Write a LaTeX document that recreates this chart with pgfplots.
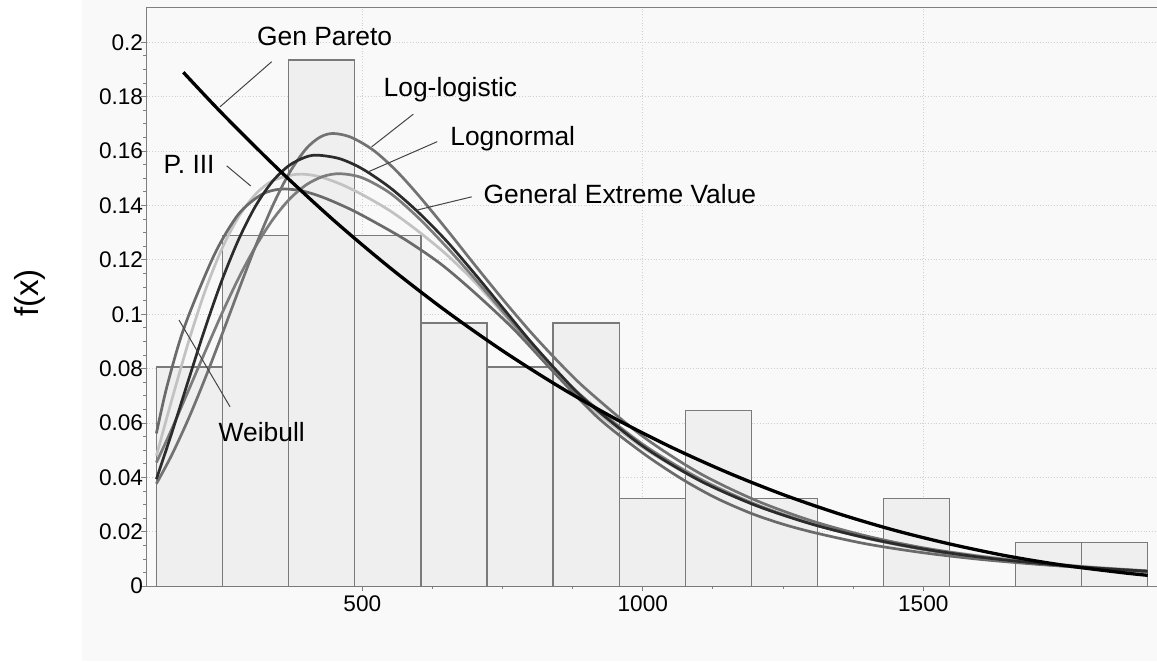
\documentclass[border=0pt]{standalone}
\usepackage{fontspec}
\setmainfont{Liberation Sans}
\usepackage{pgfplots}
\pgfplotsset{compat=1.18}

\definecolor{barfill}{HTML}{EFEFEF}
\definecolor{baredge}{HTML}{7A7A7A}
\definecolor{axisgray}{HTML}{808080}
\definecolor{gridgray}{HTML}{D0D0D0}
\definecolor{bgmain}{HTML}{F9F9F9}
\definecolor{cWei}{HTML}{6A6A6A}
\definecolor{cPIII}{HTML}{C2C2C2}
\definecolor{cLN}{HTML}{2B2B2B}
\definecolor{cLL}{HTML}{727272}
\definecolor{cGEV}{HTML}{7C7C7C}
\definecolor{pointer}{HTML}{454545}

\begin{document}
\begin{tikzpicture}
\fill[white] (-73.35pt,-37.4pt) rectangle (505.15pt,293.1pt);
\fill[bgmain] (-32.35pt,-37.4pt) rectangle (505.15pt,293.1pt);
\useasboundingbox (-73.35pt,-37.4pt) rectangle (505.15pt,293.1pt);
\begin{axis}[
  at={(0,0)}, anchor=south west,
  scale only axis, width=505.15pt, height=289.45pt,
  xmin=115.7, xmax=1916.6, ymin=0, ymax=0.2129,
  axis x line*=bottom, axis y line*=left,
  axis line style={axisgray, line width=0.7pt},
  xtick={500,1000,1500}, minor x tick num=3,
  ytick={0,0.02,0.04,0.06,0.08,0.1,0.12,0.14,0.16,0.18,0.2},
  minor y tick num=3,
  tick align=outside,
  major tick length=2.6pt, minor tick length=1.6pt,
  every tick/.style={axisgray, line width=0.5pt},
  grid=major,
  major grid style={gridgray, densely dotted, line width=0.5pt},
  /pgf/number format/assume math mode=true,
  /pgf/number format/set thousands separator={},
  yticklabel style={/pgf/number format/fixed, /pgf/number format/precision=2,
    font=\fontsize{11.3}{13}\selectfont, xshift=4.3pt},
  xticklabel style={font=\fontsize{11.3}{13}\selectfont, yshift=1.5pt},
  scaled y ticks=false,
  clip=false,
]
% histogram of relative frequencies (62 observations, 15 classes)
\addplot[ybar interval, fill=barfill, draw=baredge, line width=0.6pt] coordinates {
  (133.5,0.080645) (251.3,0.129032) (369.0,0.193548) (486.8,0.129032)
  (604.6,0.096774) (722.4,0.080645) (840.1,0.096774) (957.9,0.032258)
  (1075.7,0.064516) (1193.4,0.032258) (1311.2,0) (1429.0,0.032258)
  (1546.7,0) (1664.5,0.016129) (1782.3,0.016129) (1900.0,0.016129)
};
% fitted densities
\addplot[cPIII, line width=1.35pt, smooth] coordinates {
  (133,0.0480)(160,0.0682)(190,0.0897)(220,0.1087)(250,0.1242)(280,0.1360)
  (310,0.1442)(340,0.1491)(383,0.1515)(420,0.1508)(460,0.1480)(500,0.1440)
  (550,0.1380)(600,0.1305)(650,0.1220)(700,0.1120)(750,0.1005)(800,0.0885)
  (850,0.0770)(900,0.0670)(1000,0.0510)(1100,0.0390)(1200,0.0300)(1300,0.0233)
  (1400,0.0182)(1500,0.0141)(1600,0.0112)(1700,0.0089)(1800,0.0071)(1900,0.0057)
};
\addplot[cWei, line width=1.35pt, smooth] coordinates {
  (133,0.0562)(150,0.0720)(175,0.0905)(200,0.1045)(240,0.1235)(280,0.1370)
  (320,0.1440)(353,0.1460)(390,0.1455)(430,0.1430)(480,0.1385)(530,0.1330)
  (580,0.1270)(640,0.1185)(700,0.1080)(770,0.0945)(840,0.0790)(920,0.0620)
  (1000,0.0490)(1069,0.0395)(1130,0.0325)(1193,0.0268)(1250,0.0228)(1310,0.0195)
  (1400,0.0155)(1500,0.0123)(1600,0.0099)(1700,0.0081)(1800,0.0067)(1900,0.0055)
};
\addplot[cGEV, line width=1.35pt, smooth] coordinates {
  (133,0.0455)(160,0.0576)(190,0.0719)(220,0.0863)(250,0.1004)(280,0.1135)
  (310,0.1250)(340,0.1347)(370,0.1423)(400,0.1476)(430,0.1507)(460,0.1517)
  (500,0.1502)(550,0.1445)(600,0.1355)(650,0.1248)(700,0.1132)(750,0.1012)
  (800,0.0893)(850,0.0782)(900,0.0684)(1000,0.0522)(1100,0.0397)(1200,0.0302)
  (1300,0.0230)(1400,0.0176)(1500,0.0135)(1600,0.0105)(1700,0.0083)(1800,0.0066)
  (1900,0.0053)
};
\addplot[cLL, line width=1.35pt, smooth] coordinates {
  (133,0.0377)(160,0.0481)(190,0.0615)(220,0.0765)(250,0.0926)(280,0.1091)
  (310,0.1252)(340,0.1398)(370,0.1520)(400,0.1609)(425,0.1652)(448,0.1665)
  (480,0.1651)(520,0.1603)(560,0.1529)(600,0.1438)(650,0.1313)(700,0.1183)
  (750,0.1056)(800,0.0935)(850,0.0824)(900,0.0723)(1000,0.0551)(1100,0.0417)
  (1200,0.0317)(1300,0.0241)(1400,0.0184)(1500,0.0141)(1600,0.0110)(1700,0.0087)
  (1800,0.0069)(1900,0.0056)
};
\addplot[cLN, line width=1.35pt, smooth] coordinates {
  (133,0.0394)(160,0.0561)(190,0.0757)(220,0.0950)(250,0.1126)(280,0.1277)
  (310,0.1399)(340,0.1489)(370,0.1548)(400,0.1579)(422,0.1585)(460,0.1572)
  (500,0.1535)(550,0.1465)(600,0.1375)(650,0.1270)(700,0.1150)(750,0.1025)
  (800,0.0900)(850,0.0785)(900,0.0680)(1000,0.0515)(1100,0.0390)(1200,0.0298)
  (1300,0.0229)(1400,0.0177)(1500,0.0137)(1600,0.0107)(1700,0.0085)(1800,0.0068)
  (1900,0.0055)
};
\addplot[black, line width=1.65pt, smooth] coordinates {
  (181,0.1890)(250,0.1739)(350,0.1534)(450,0.1344)(550,0.1170)(650,0.1011)
  (750,0.0866)(850,0.0735)(950,0.0617)(1050,0.0512)(1150,0.0419)(1250,0.0337)
  (1350,0.0266)(1450,0.0205)(1550,0.0154)(1650,0.0111)(1750,0.0077)(1850,0.0051)
  (1900,0.0040)
};
% frame top edge
\draw[axisgray, line width=0.7pt] (rel axis cs:0,1) -- (rel axis cs:1,1);
% curve labels with leader lines
\begin{scope}[font=\fontsize{13.2}{15}\selectfont]
\draw[pointer, line width=0.5pt] (axis cs:338.5,0.1929) -- (axis cs:246.3,0.1763);
\node[anchor=base west, inner sep=0pt] at (axis cs:311.8,0.1990) {Gen Pareto};
\draw[pointer, line width=0.5pt] (axis cs:590.9,0.1736) -- (axis cs:516.8,0.1616);
\node[anchor=base west, inner sep=0pt] at (axis cs:537.4,0.1800) {Log-logistic};
\draw[pointer, line width=0.5pt] (axis cs:633.7,0.1635) -- (axis cs:510.7,0.1524);
\node[anchor=base west, inner sep=0pt] at (axis cs:656.3,0.1622) {Lognormal};
\draw[pointer, line width=0.5pt] (axis cs:695.0,0.1432) -- (axis cs:597.0,0.1383);
\node[anchor=base west, inner sep=0pt] at (axis cs:715.7,0.1408) {General Extreme Value};
\draw[pointer, line width=0.5pt] (axis cs:258.3,0.1546) -- (axis cs:301.1,0.1472);
\node[anchor=base west, inner sep=0pt] at (axis cs:145.3,0.1518) {P. III};
\draw[pointer, line width=0.5pt] (axis cs:264.2,0.0660) -- (axis cs:173.3,0.0979);
\node[anchor=base west, inner sep=0pt] at (axis cs:243.3,0.0531) {Weibull};
\end{scope}
\end{axis}
\node[rotate=90, font=\fontsize{16.6}{19}\selectfont] at (-58.35pt,146.6pt) {f(x)};
\end{tikzpicture}
\end{document}
